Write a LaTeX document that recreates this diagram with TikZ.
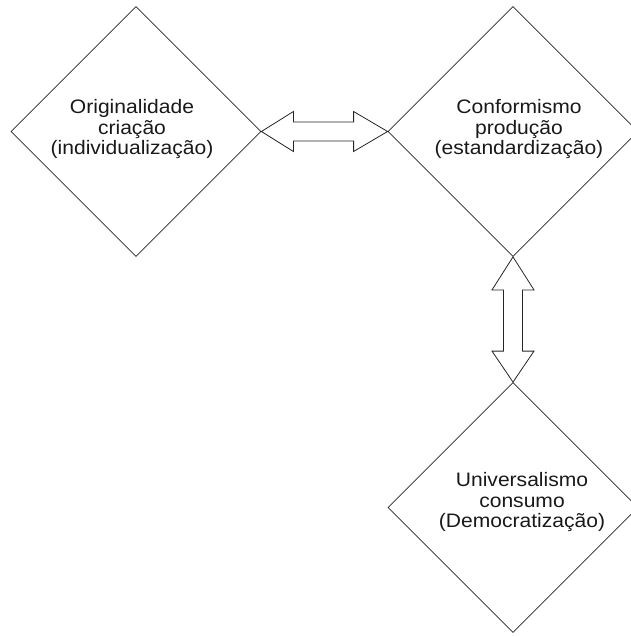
\documentclass[tikz,border=0pt]{standalone}
\usepackage{fontspec}
\newfontfamily\hv{Liberation Sans}[FakeStretch=1.08]
\usetikzlibrary{shapes.geometric,calc}
\tikzset{
  box/.style={diamond, draw=black!85, line width=0.8pt, minimum width=250pt, minimum height=250pt, inner sep=0pt, aspect=1},
  lbl/.style={align=center, text=black!90, font=\hv\fontsize{19.5}{20.5}\selectfont, inner sep=0pt},
  blk/.style={draw=black!85, line width=0.8pt, line join=miter, fill=white}
}
\begin{document}
\begin{tikzpicture}[x=1pt,y=-1pt]
\useasboundingbox (0,0) rectangle (631,637);
\clip (0,0) rectangle (631,637);
\node[box] (d1) at (136,131.5) {};
\node[box] (d2) at (513,131.5) {};
\node[box] (d3) at (513,507.5) {};
\node[lbl] (t1) at (132,129) {Originalidade\\criação\\(individualização)};
\node[lbl] (t2) at (519,129) {Conformismo\\produção\\(estandardização)};
\node[lbl] (t3) at (522,502) {Universalismo\\consumo\\(Democratização)};
% horizontal double block arrow
\draw[blk] (d1.east) -- ($(d1.east)+(32pt,20pt)$) -- ($(d1.east)+(32pt,9.5pt)$)
  -- ($(d2.west)+(-34pt,9.5pt)$) -- ($(d2.west)+(-34pt,20pt)$) -- (d2.west)
  -- ($(d2.west)+(-34pt,-20pt)$) -- ($(d2.west)+(-34pt,-9.5pt)$)
  -- ($(d1.east)+(32pt,-9.5pt)$) -- ($(d1.east)+(32pt,-20pt)$) -- cycle;
% vertical double block arrow
\draw[blk] (d2.south) -- ($(d2.south)+(21pt,-33pt)$) -- ($(d2.south)+(9.5pt,-33pt)$)
  -- ($(d3.north)+(9.5pt,31pt)$) -- ($(d3.north)+(21pt,31pt)$) -- (d3.north)
  -- ($(d3.north)+(-21pt,31pt)$) -- ($(d3.north)+(-9.5pt,31pt)$)
  -- ($(d2.south)+(-9.5pt,-33pt)$) -- ($(d2.south)+(-21pt,-33pt)$) -- cycle;
\end{tikzpicture}
\end{document}
